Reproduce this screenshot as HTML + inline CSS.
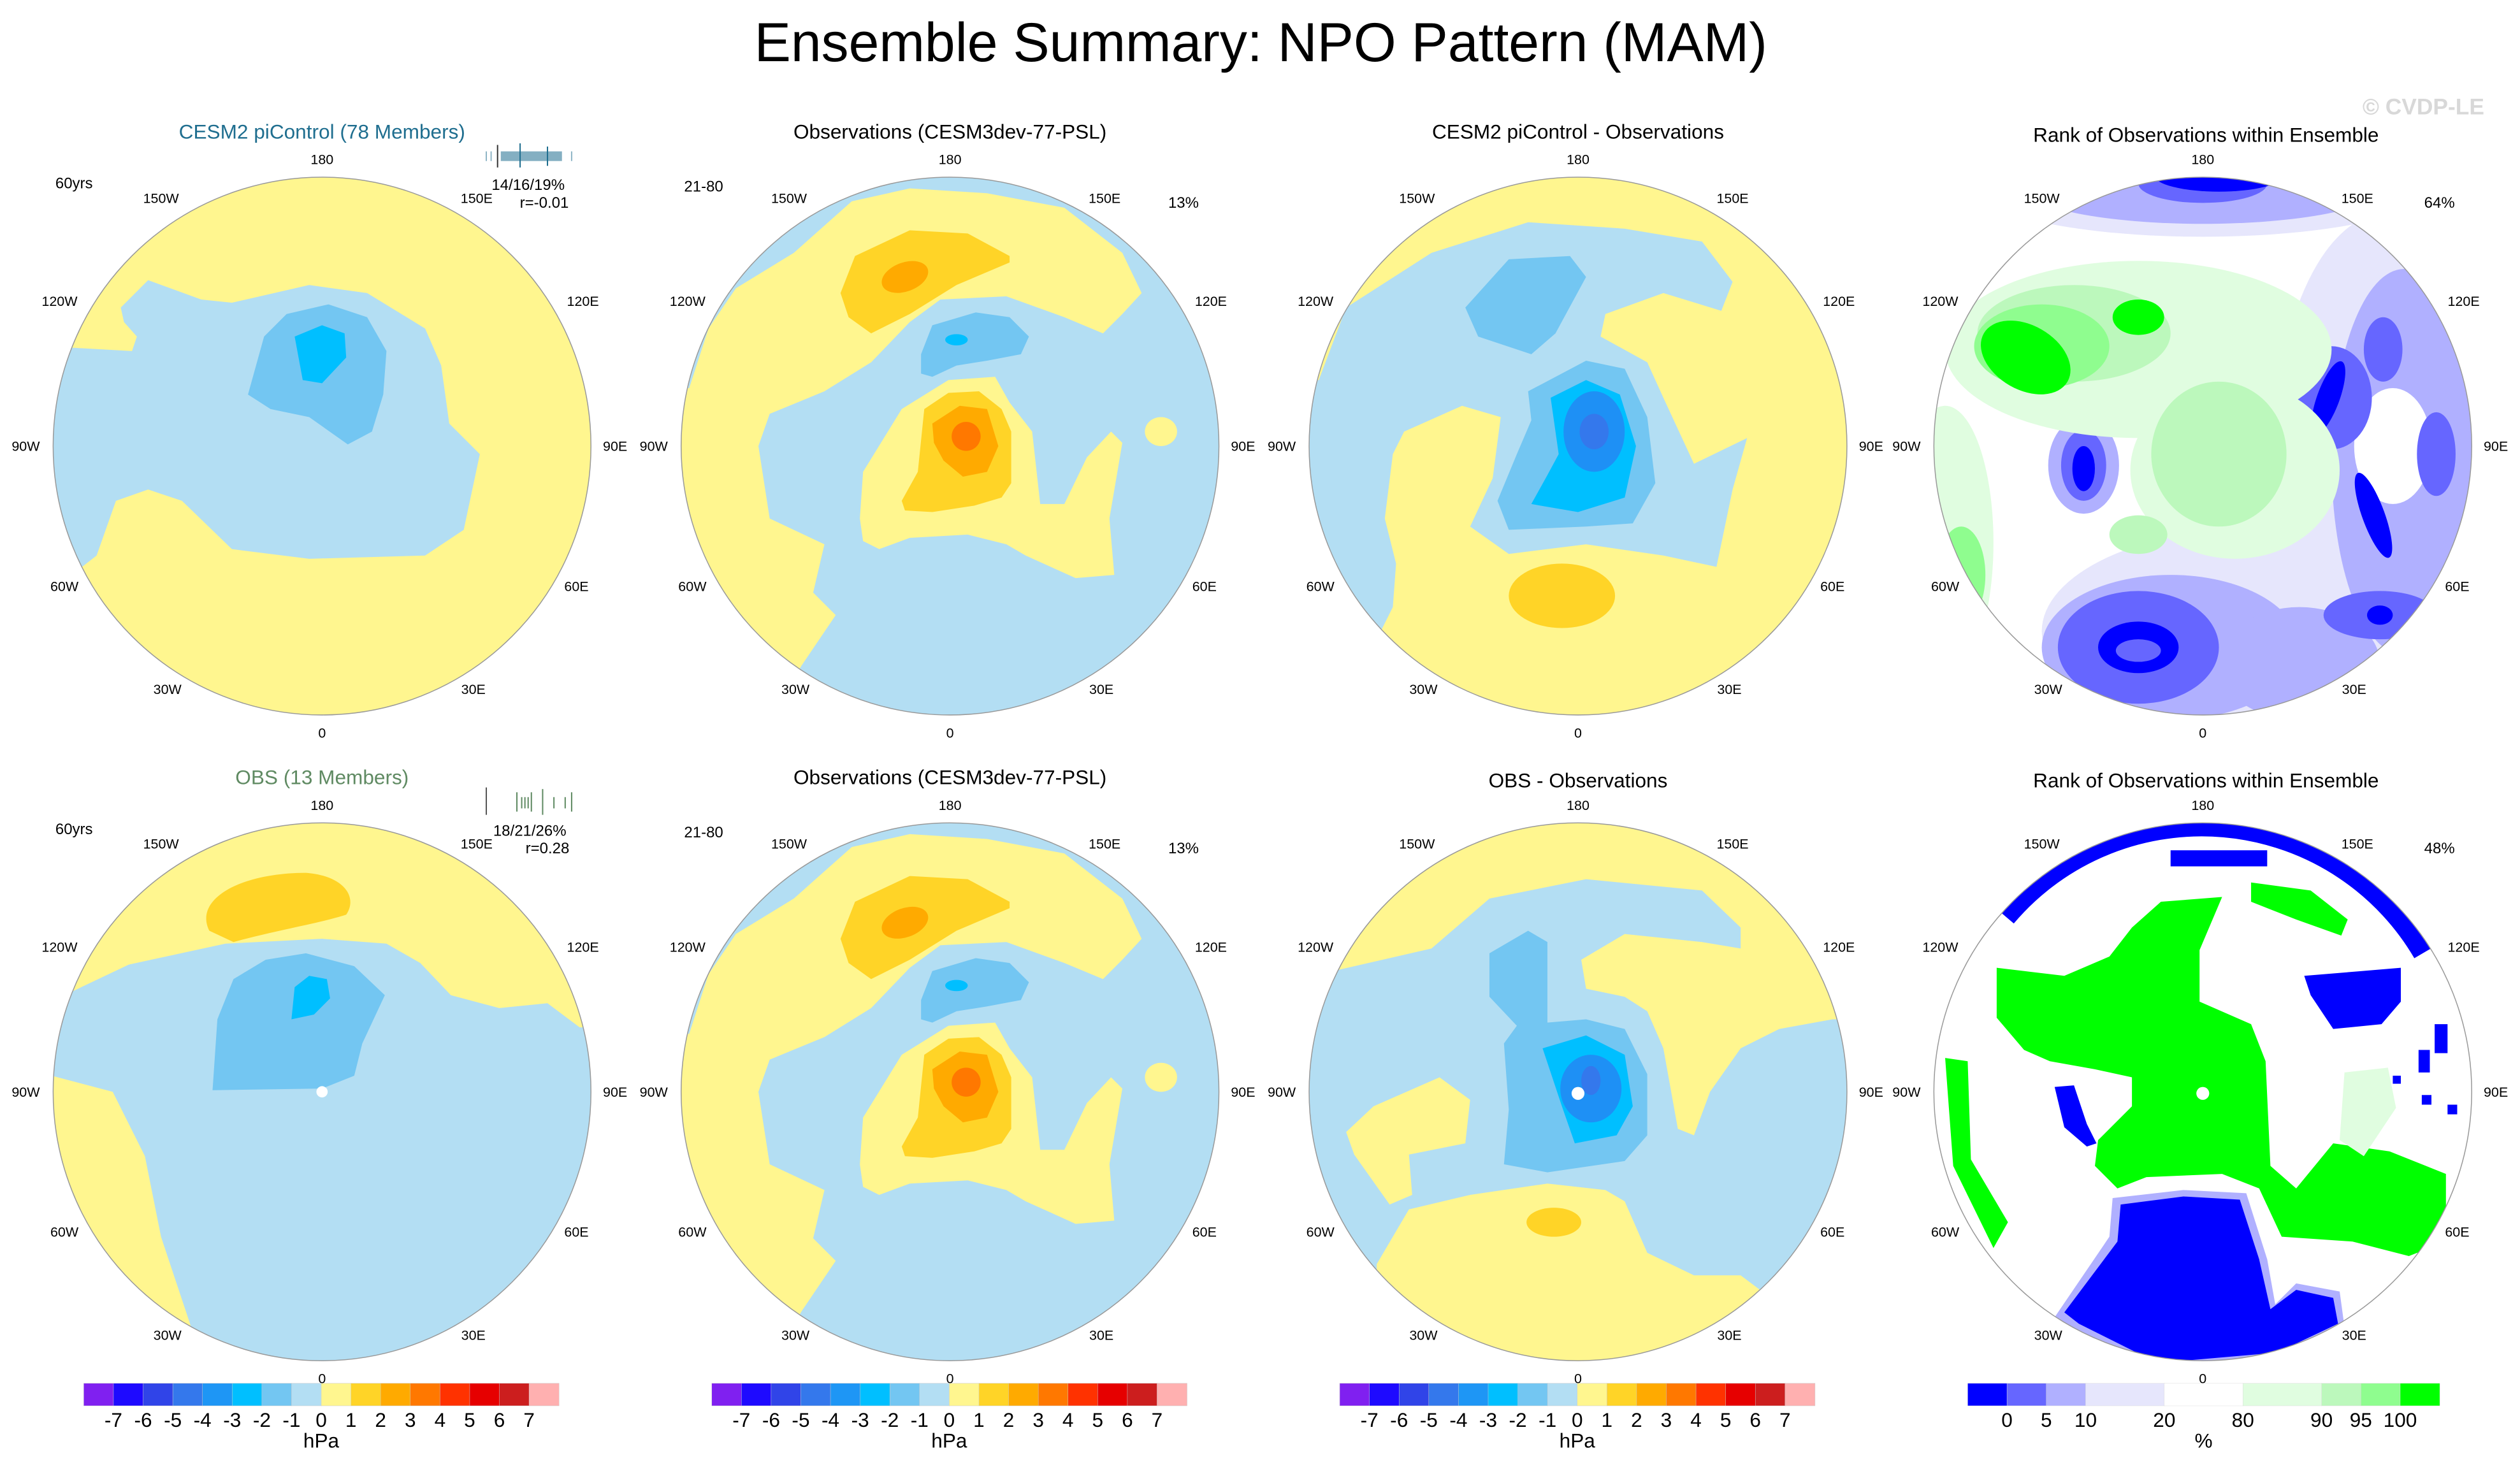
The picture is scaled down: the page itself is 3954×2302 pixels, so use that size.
<!DOCTYPE html>
<html><head><meta charset="utf-8"><title>Ensemble Summary: NPO Pattern (MAM)</title>
<style>
html,body{margin:0;padding:0;background:#fff;}
svg{display:block;}
text{font-family:"Liberation Sans",Arial,sans-serif;}
</style></head>
<body>
<svg id="fig" xmlns="http://www.w3.org/2000/svg" width="3954" height="2302" viewBox="0 0 1565 911" preserveAspectRatio="none">
<defs>
<clipPath id="cc" clipPathUnits="userSpaceOnUse"><circle cx="0" cy="0" r="167"/></clipPath>
<g id="bshape">
<rect x="-170" y="-170" width="340" height="340" fill="#b3def3"/>
<path fill="#fff68f" d="M-162,-36 L-150,-73 L-133,-98 L-97,-120 L-61,-152 L-25,-160 L23,-157 L71,-148 L107,-120 L119,-95 L107,-82 L95,-70 L71,-80 L35,-93 L-6,-91 L-25,-77 L-49,-52 L-78,-34 L-112,-20 L-119,0 L-112,45 L-78,61 L-85,91 L-71,105 L-92,136 L-95,141 L-200,141 L-200,-36 Z"/>
<path fill="#fff68f" d="M-56,45 L-54,16 L-30,-23 L-1,-41 L28,-43 L37,-27 L51,-9 L56,36 L71,36 L85,7 L100,-9 L107,-2 L99,45 L102,80 L78,82 L47,68 L35,61 L11,55 L-25,57 L-44,64 L-54,59 Z"/>
<ellipse cx="131" cy="-9" rx="10" ry="9" fill="#fff68f"/>
<path fill="#ffd427" d="M-30,34 L-20,16 L-16,-23 L-1,-33 L18,-34 L32,-23 L38,-9 L38,23 L32,32 L15,37 L-11,41 L-28,40 Z"/>
<path fill="#ffaa00" d="M-11,-14 L6,-25 L23,-23 L30,0 L23,16 L8,19 L-4,9 L-10,-2 Z"/>
<circle cx="10" cy="-6" r="9" fill="#ff7800"/>
<path fill="#ffd427" d="M-68,-95 L-59,-118 L-25,-134 L11,-132 L37,-118 L37,-114 L4,-100 L-25,-82 L-49,-70 L-63,-80 Z"/>
<ellipse cx="-28" cy="-105" rx="15" ry="9" transform="rotate(-20 -28 -105)" fill="#ffaa00"/>
<path fill="#73c6f2" d="M-18,-57 L-11,-75 L16,-83 L37,-80 L49,-68 L44,-57 L23,-53 L4,-50 L-11,-43 L-18,-45 Z"/>
<ellipse cx="4" cy="-66" rx="7" ry="3.5" fill="#00bfff"/>
</g>
</defs>
<text x="783" y="38" font-size="34" text-anchor="middle">Ensemble Summary: NPO Pattern (MAM)</text>
<text x="1505" y="71" font-size="14" fill="#d8d8d8" text-anchor="middle" font-weight="bold">© CVDP-LE</text>

<text x="200" y="86" font-size="12.5" fill="#1f6e8f" text-anchor="middle">CESM2 piControl (78 Members)</text>
<text x="590" y="86" font-size="12.5" text-anchor="middle">Observations (CESM3dev-77-PSL)</text>
<text x="980" y="86" font-size="12.5" text-anchor="middle">CESM2 piControl - Observations</text>
<text x="1370" y="88" font-size="12.5" text-anchor="middle">Rank of Observations within Ensemble</text>
<text x="200" y="487" font-size="12.5" fill="#5f8a62" text-anchor="middle">OBS (13 Members)</text>
<text x="590" y="487" font-size="12.5" text-anchor="middle">Observations (CESM3dev-77-PSL)</text>
<text x="980" y="489" font-size="12.5" text-anchor="middle">OBS - Observations</text>
<text x="1370" y="489" font-size="12.5" text-anchor="middle">Rank of Observations within Ensemble</text>

<g font-size="9.5">
<text x="46" y="117" text-anchor="middle">60yrs</text>
<text x="328" y="118" text-anchor="middle">14/16/19%</text>
<text x="338" y="129" text-anchor="middle">r=-0.01</text>
<text x="437" y="119" text-anchor="middle">21-80</text>
<text x="735" y="129" text-anchor="middle">13%</text>
<text x="1515" y="129" text-anchor="middle">64%</text>
<text x="46" y="518" text-anchor="middle">60yrs</text>
<text x="329" y="519" text-anchor="middle">18/21/26%</text>
<text x="340" y="530" text-anchor="middle">r=0.28</text>
<text x="437" y="520" text-anchor="middle">21-80</text>
<text x="735" y="530" text-anchor="middle">13%</text>
<text x="1515" y="530" text-anchor="middle">48%</text>
</g>
<g stroke="#1f6e8f" stroke-width="0.8">
<line x1="309" y1="90" x2="309" y2="104" stroke="#333"/>
<rect x="311" y="94" width="38" height="6" fill="#1f6e8f" stroke="none" opacity="0.55"/>
<line x1="302" y1="94" x2="302" y2="100" opacity="0.5"/><line x1="305" y1="94" x2="305" y2="100" opacity="0.5"/>
<line x1="323" y1="89" x2="323" y2="104"/><line x1="340" y1="91" x2="340" y2="103"/><line x1="355" y1="94" x2="355" y2="100" opacity="0.5"/>
</g>
<g stroke="#5f8a62" stroke-width="0.8">
<line x1="302" y1="489" x2="302" y2="506" stroke="#555"/>
<line x1="321" y1="492" x2="321" y2="504"/><line x1="324" y1="495" x2="324" y2="502"/><line x1="326" y1="495" x2="326" y2="502"/><line x1="328" y1="495" x2="328" y2="502"/><line x1="330" y1="492" x2="330" y2="504"/>
<line x1="337" y1="490" x2="337" y2="506"/><line x1="344" y1="495" x2="344" y2="502"/><line x1="351" y1="495" x2="351" y2="502"/><line x1="355" y1="492" x2="355" y2="504"/>
</g>

<g transform="translate(200,277)">
<g clip-path="url(#cc)">
<rect x="-170" y="-170" width="340" height="340" fill="#fff68f"/>
<path fill="#b3def3" d="M-125,-86 L-108,-103 L-75,-91 L-56,-89 L-8,-100 L28,-95 L64,-73 L74,-50 L79,-14 L98,5 L88,52 L64,68 L-8,70 L-56,64 L-87,34 L-108,27 L-128,34 L-140,68 L-149,75 L-200,75 L-200,-61 L-154,-61 L-118,-59 L-115,-68 L-123,-77 Z"/>
<path fill="#73c6f2" d="M-46,-32 L-36,-68 L-22,-82 L4,-88 L28,-80 L40,-59 L38,-32 L31,-9 L16,-1 L-8,-18 L-32,-23 Z"/>
<path fill="#00bfff" d="M-17,-68 L0,-75 L14,-70 L15,-55 L0,-39 L-12,-41 Z"/>
</g>
<circle r="167" fill="none" stroke="#999" stroke-width="0.6"/>
</g>

<g transform="translate(200,678)">
<g clip-path="url(#cc)">
<rect x="-170" y="-170" width="340" height="340" fill="#b3def3"/>
<path fill="#fff68f" d="M-200,-60 L-160,-60 L-120,-79 L-60,-92 L0,-95 L40,-92 L61,-80 L80,-60 L110,-52 L140,-55 L160,-40 L200,-40 L200,-200 L-200,-200 Z"/>
<path fill="#fff68f" d="M-200,-10 L-168,-10 L-130,0 L-110,40 L-100,90 L-80,150 L-60,200 L-200,200 Z"/>
<path fill="#ffd427" d="M-70,-100 C-80,-120 -50,-136 -10,-136 C15,-134 22,-120 15,-110 C0,-105 -30,-100 -55,-93 Z"/>
<path fill="#73c6f2" d="M-68,-1 L-65,-45 L-55,-70 L-35,-82 L-10,-86 L20,-78 L39,-60 L32,-45 L25,-30 L20,-10 L0,-2 Z"/>
<path fill="#00bfff" d="M-19,-45 L-17,-65 L-8,-72 L3,-70 L5,-58 L-5,-48 Z"/>
<circle cx="0" cy="0" r="3.5" fill="#fff"/>
</g>
<circle r="167" fill="none" stroke="#999" stroke-width="0.6"/>
</g>

<g transform="translate(590,277)">
<g clip-path="url(#cc)"><use href="#bshape"/></g>
<circle r="167" fill="none" stroke="#999" stroke-width="0.6"/>
</g>
<g transform="translate(590,678)">
<g clip-path="url(#cc)"><use href="#bshape"/></g>
<circle r="167" fill="none" stroke="#999" stroke-width="0.6"/>
</g>

<g transform="translate(980,277)">
<g clip-path="url(#cc)">
<rect x="-170" y="-170" width="340" height="340" fill="#fff68f"/>
<path fill="#b3def3" d="M-161,-41 L-144,-86 L-91,-120 L-31,-139 L29,-135 L77,-127 L96,-102 L89,-84 L53,-95 L17,-82 L14,-68 L43,-52 L53,-30 L72,11 L105,-5 L96,27 L86,75 L53,68 L5,61 L-43,67 L-67,50 L-53,20 L-48,-18 L-72,-25 L-108,-9 L-115,5 L-120,45 L-113,73 L-115,100 L-122,114 L-200,114 L-200,-41 Z"/>
<path fill="#73c6f2" d="M-70,-86 L-43,-116 L-5,-118 L5,-105 L-14,-70 L-29,-57 L-62,-68 Z"/>
<path fill="#73c6f2" d="M-31,-34 L5,-53 L29,-48 L43,-18 L48,23 L34,48 L5,50 L-43,52 L-50,34 L-38,5 L-29,-16 Z"/>
<path fill="#00bfff" d="M-17,-30 L5,-41 L26,-32 L36,0 L29,32 L0,41 L-29,36 L-19,18 L-12,5 Z"/>
<ellipse cx="10" cy="-9" rx="19" ry="25" fill="#1e90f5"/>
<ellipse cx="10" cy="-9" rx="9" ry="11" fill="#3478ec"/>
<ellipse cx="-10" cy="93" rx="33" ry="20" fill="#ffd427"/>
</g>
<circle r="167" fill="none" stroke="#999" stroke-width="0.6"/>
</g>

<g transform="translate(980,678)">
<g clip-path="url(#cc)">
<rect x="-170" y="-170" width="340" height="340" fill="#b3def3"/>
<path fill="#fff68f" d="M-152,-75 L-91,-89 L-55,-120 L5,-132 L77,-125 L101,-102 L101,-89 L77,-93 L29,-98 L2,-82 L5,-64 L29,-59 L43,-50 L53,-27 L62,23 L72,27 L82,0 L101,-27 L125,-39 L158,-45 L200,-45 L200,-200 L-200,-200 L-200,-75 Z"/>
<path fill="#fff68f" d="M-144,25 L-127,9 L-86,-9 L-67,5 L-70,32 L-105,39 L-103,64 L-117,70 L-139,39 Z"/>
<path fill="#fff68f" d="M-125,107 L-105,73 L-67,64 L-19,57 L17,61 L29,68 L43,100 L72,114 L101,114 L113,123 L113,200 L-125,200 Z"/>
<path fill="#73c6f2" d="M-46,-30 L-38,-41 L-55,-59 L-55,-86 L-31,-100 L-19,-93 L-19,-43 L5,-45 L29,-39 L43,-11 L43,27 L29,43 L-19,50 L-46,45 L-43,11 Z"/>
<path fill="#00bfff" d="M-22,-27 L5,-35 L29,-23 L34,9 L24,27 L-2,32 L-10,9 Z"/>
<ellipse cx="8" cy="-2" rx="19" ry="21" fill="#1e90f5"/>
<ellipse cx="8" cy="-7" rx="6" ry="9" fill="#3478ec"/>
<ellipse cx="-15" cy="81" rx="17" ry="9" fill="#ffd427"/>
<circle cx="0" cy="1" r="4" fill="#fff"/>
</g>
<circle r="167" fill="none" stroke="#999" stroke-width="0.6"/>
</g>

<g transform="translate(1368,277)">
<g clip-path="url(#cc)">
<rect x="-170" y="-170" width="340" height="340" fill="#fff"/>
<ellipse cx="0" cy="-160" rx="140" ry="30" fill="#e6e6fc"/>
<ellipse cx="40" cy="115" rx="140" ry="65" fill="#e6e6fc"/>
<ellipse cx="115" cy="0" rx="70" ry="145" fill="#e6e6fc"/>
<ellipse cx="0" cy="-160" rx="110" ry="22" fill="#b0b0ff"/>
<ellipse cx="125" cy="10" rx="45" ry="120" fill="#b0b0ff"/>
<ellipse cx="-20" cy="125" rx="80" ry="45" fill="#b0b0ff"/>
<ellipse cx="60" cy="135" rx="50" ry="35" fill="#b0b0ff"/>
<ellipse cx="118" cy="0" rx="24" ry="36" fill="#fff"/>
<ellipse cx="-74" cy="12" rx="22" ry="30" fill="#b0b0ff"/>
<ellipse cx="-74" cy="12" rx="14" ry="22" fill="#6666ff"/>
<ellipse cx="-74" cy="14" rx="7" ry="14" fill="#0000ff"/>
<ellipse cx="-40" cy="125" rx="50" ry="35" fill="#6666ff"/>
<ellipse cx="80" cy="-30" rx="25" ry="32" fill="#6666ff"/>
<ellipse cx="145" cy="5" rx="12" ry="26" fill="#6666ff"/>
<ellipse cx="110" cy="105" rx="35" ry="15" fill="#6666ff"/>
<ellipse cx="112" cy="-60" rx="12" ry="20" fill="#6666ff"/>
<ellipse cx="0" cy="-163" rx="40" ry="12" fill="#6666ff"/>
<ellipse cx="-40" cy="125" rx="25" ry="16" fill="#0000ff"/>
<ellipse cx="-40" cy="127" rx="14" ry="7" fill="#6666ff"/>
<ellipse cx="78" cy="-30" rx="7" ry="24" transform="rotate(20 78 -30)" fill="#0000ff"/>
<ellipse cx="106" cy="43" rx="7" ry="28" transform="rotate(-20 106 43)" fill="#0000ff"/>
<ellipse cx="10" cy="-168" rx="40" ry="10" fill="#0000ff"/>
<ellipse cx="110" cy="105" rx="8" ry="6" fill="#0000ff"/>
<ellipse cx="-40" cy="-60" rx="120" ry="55" fill="#e0fde0"/>
<ellipse cx="20" cy="15" rx="65" ry="55" fill="#e0fde0"/>
<ellipse cx="-160" cy="60" rx="30" ry="85" fill="#e0fde0"/>
<ellipse cx="-80" cy="-70" rx="60" ry="30" fill="#bcf8bc"/>
<ellipse cx="10" cy="5" rx="42" ry="45" fill="#bcf8bc"/>
<ellipse cx="-40" cy="55" rx="18" ry="12" fill="#bcf8bc"/>
<ellipse cx="-150" cy="80" rx="15" ry="30" fill="#8ffd8f"/>
<ellipse cx="-100" cy="-62" rx="42" ry="26" fill="#8ffd8f"/>
<ellipse cx="-110" cy="-55" rx="30" ry="20" transform="rotate(30 -110 -55)" fill="#00ff00"/>
<ellipse cx="-40" cy="-80" rx="16" ry="11" fill="#00ff00"/>
</g>
<circle r="167" fill="none" stroke="#999" stroke-width="0.6"/>
</g>

<g transform="translate(1368,678)">
<g clip-path="url(#cc)">
<rect x="-170" y="-170" width="340" height="340" fill="#fff"/>
<path d="M-125,-111 A163 163 0 0 1 140,-88" fill="none" stroke="#0000ff" stroke-width="20"/>
<path d="M-20,-150 L40,-150 L40,-140 L-20,-140 Z" fill="#0000ff"/>
<path fill="#00ff00" d="M-128,-77 L-86,-72 L-58,-84 L-44,-102 L-26,-118 L12,-121 L-2,-88 L-2,-56 L30,-42 L39,-19 L42,46 L58,60 L81,32 L116,37 L151,51 L151,93 L128,102 L93,93 L49,90 L35,60 L12,51 L-35,53 L-53,60 L-67,46 L-65,30 L-44,9 L-44,-9 L-67,-14 L-95,-19 L-111,-26 L-128,-46 Z"/>
<path fill="#00ff00" d="M30,-130 L67,-125 L90,-107 L86,-97 L58,-107 L30,-118 Z"/>
<path fill="#00ff00" d="M-160,-21 L-146,-19 L-144,42 L-121,81 L-130,97 L-155,46 Z"/>
<path fill="#b0b0ff" d="M-56,66 L-12,61 L27,63 L40,104 L45,132 L58,119 L85,124 L88,146 L46,166 L-12,171 L-38,169 L-82,148 L-92,140 L-58,90 Z"/>
<path fill="#0000ff" d="M-51,70 L-12,65 L23,67 L35,104 L42,135 L58,123 L81,128 L84,144 L46,162 L-12,167 L-35,165 L-77,144 L-86,137 L-53,93 Z"/>
<path fill="#0000ff" d="M63,-72 L123,-77 L123,-56 L111,-42 L81,-39 L67,-60 Z"/>
<path fill="#0000ff" d="M-92,-3 L-80,-4 L-72,20 L-66,32 L-72,34 L-86,22 Z"/>
<rect x="144" y="-42" width="8" height="18" fill="#0000ff"/>
<rect x="134" y="-26" width="7" height="14" fill="#0000ff"/>
<rect x="136" y="2" width="6" height="6" fill="#0000ff"/>
<rect x="152" y="8" width="6" height="6" fill="#0000ff"/>
<rect x="118" y="-10" width="5" height="5" fill="#0000ff"/>
<path fill="#e0fde0" d="M88,-12 L115,-15 L120,10 L100,40 L85,30 Z"/>
<circle cx="0" cy="1" r="4" fill="#fff"/>
</g>
<circle r="167" fill="none" stroke="#999" stroke-width="0.6"/>
</g>

<g id="lonlabels" font-size="8.5"></g>
<g id="cbars"></g>
</svg>
<script>
const hpaColors = ["#8020f0","#1e0aff","#3044e8","#3478ec","#1e96f5","#00bfff","#73c6f2","#b3def3","#fff68f","#ffd427","#ffaa00","#ff7800","#ff3200","#e60000","#cc1e1e","#ffb0b0"];
const hpaTicks = ["-7","-6","-5","-4","-3","-2","-1","0","1","2","3","4","5","6","7"];
const rankColors = ["#0000ff","#6666ff","#b0b0ff","#e6e6fc","#ffffff","#e0fde0","#bcf8bc","#8ffd8f","#00ff00"];
const rankWidths = [1,1,1,2,2,2,1,1,1];
const rankTicks = ["0","5","10","20","80","90","95","100"];
const lonNames = ["180","150W","150E","120W","120E","90W","90E","60W","60E","30W","30E","0"];
const lonOffsets = [[0,-175],[-100,-151],[96,-151],[-163,-87],[162,-87],[-184,3],[182,3],[-160,90],[158,90],[-96,154],[94,154],[0,181]];

const NS = "http://www.w3.org/2000/svg";
const cb = document.getElementById('cbars');
const lon = document.getElementById('lonlabels');
function mk(tag, attrs){const e=document.createElementNS(NS,tag);for(const k in attrs)e.setAttribute(k,attrs[k]);return e;}

const centersX=[200,590,980,1368], centersY=[277,678];
centersY.forEach(cy=>centersX.forEach(cx=>{
  lonNames.forEach((n,i)=>{
    const t=mk('text',{x:cx+lonOffsets[i][0],y:cy+lonOffsets[i][1],'text-anchor':'middle'});
    
    
    t.textContent=n; lon.appendChild(t);
  });
}));

const cbY=859, cbH=14;
[52,442,832].forEach((x0,p)=>{
  const w=295/hpaColors.length;
  hpaColors.forEach((c,i)=>{
    const r=mk('rect',{x:x0+i*w,y:cbY,width:w+0.2,height:cbH,fill:c,stroke:'#ccc','stroke-width':0.2});
    
    
    cb.appendChild(r);
  });
  hpaTicks.forEach((t,i)=>{
    const e=mk('text',{x:x0+(i+1)*w,y:cbY+27,'font-size':12.5,'text-anchor':'middle'});
    
    
    e.textContent=t; cb.appendChild(e);
  });
  const u=mk('text',{x:x0+147.5,y:cbY+40,'font-size':12.5,'text-anchor':'middle'});
  
  
  u.textContent='hPa'; cb.appendChild(u);
});
(function(){
  const x0=1222, total=293, units=rankWidths.reduce((a,b)=>a+b,0);
  let x=x0; const bounds=[];
  rankColors.forEach((c,i)=>{
    const w=total*rankWidths[i]/units;
    const r=mk('rect',{x:x,y:cbY,width:w+0.2,height:cbH,fill:c,stroke:'#ddd','stroke-width':0.2});
    
    
    cb.appendChild(r); x+=w; bounds.push(x);
  });
  rankTicks.forEach((t,i)=>{
    const e=mk('text',{x:bounds[i],y:cbY+27,'font-size':12.5,'text-anchor':'middle'});
    
    
    e.textContent=t; cb.appendChild(e);
  });
  const u=mk('text',{x:x0+total/2,y:cbY+40,'font-size':12.5,'text-anchor':'middle'});
  
  
  u.textContent='%'; cb.appendChild(u);
})();
</script>
</body></html>
